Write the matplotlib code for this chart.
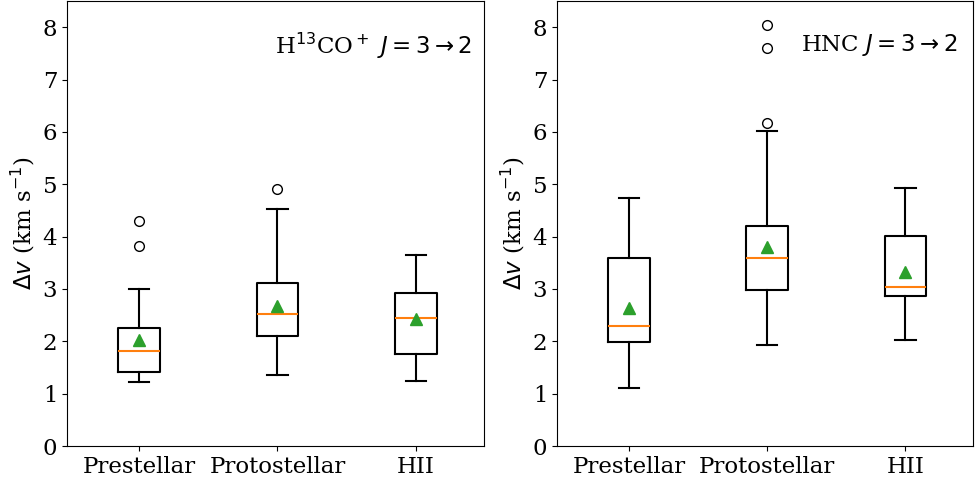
import matplotlib
matplotlib.use("Agg")
import matplotlib.pyplot as plt

plt.rcParams['font.family'] = ['DejaVu Serif']
plt.rcParams['mathtext.fontset'] = 'dejavusans'

categories = ["Prestellar", "Protostellar", "HII"]

# H13CO+ J=3-2 line widths (km/s)
h13_whislo = [1.23, 1.35, 1.25]
h13_q1 = [1.42, 2.10, 1.75]
h13_med = [1.82, 2.52, 2.45]
h13_mean = [2.03, 2.67, 2.42]
h13_q3 = [2.25, 3.12, 2.93]
h13_whishi = [3.00, 4.53, 3.65]
h13_fliers = [[3.82, 4.30], [4.90], []]

# HNC J=3-2 line widths (km/s)
hnc_whislo = [1.11, 1.92, 2.03]
hnc_q1 = [1.99, 2.98, 2.86]
hnc_med = [2.29, 3.59, 3.04]
hnc_mean = [2.64, 3.81, 3.32]
hnc_q3 = [3.60, 4.20, 4.02]
hnc_whishi = [4.74, 6.02, 4.93]
hnc_fliers = [[], [6.16, 7.60, 8.05], []]

labels = [r"H$^{13}$CO$^+$ $J=3\rightarrow2$", r"HNC $J=3\rightarrow2$"]
label_x = [0.972, 0.963]


def make_stats(wl, q1, med, mean, q3, wh, fl):
    return [dict(label=categories[i], whislo=wl[i], q1=q1[i], med=med[i],
                 mean=mean[i], q3=q3[i], whishi=wh[i], fliers=fl[i])
            for i in range(len(categories))]


stats = [
    make_stats(h13_whislo, h13_q1, h13_med, h13_mean, h13_q3, h13_whishi, h13_fliers),
    make_stats(hnc_whislo, hnc_q1, hnc_med, hnc_mean, hnc_q3, hnc_whishi, hnc_fliers),
]

fig = plt.figure(figsize=(9.75, 4.84), dpi=100)
ax1 = fig.add_axes([0.0687, 0.0785, 0.4275, 0.9195])
ax2 = fig.add_axes([0.5713, 0.0785, 0.4267, 0.9195])

for ax, st, lab, lx in zip([ax1, ax2], stats, labels, label_x):
    ax.bxp(st, widths=0.3, showmeans=True,
           flierprops=dict(marker='o', markersize=7, markerfacecolor='none',
                           markeredgecolor='black'),
           meanprops=dict(marker='^', markersize=9, markerfacecolor='#2ca02c',
                          markeredgecolor='#2ca02c'),
           medianprops=dict(color='#ff7f0e', linewidth=1.5),
           boxprops=dict(linewidth=1.5),
           whiskerprops=dict(linewidth=1.5),
           capprops=dict(linewidth=1.5))
    ax.set_ylim(0, 8.5)
    ax.set_xlim(0.48, 3.49)
    ax.set_yticks(range(0, 9))
    ax.tick_params(labelsize=16.5)
    ax.set_ylabel(r"$\Delta v$ (km s$^{-1}$)", fontsize=16.5)
    ax.text(lx, 0.9, lab, transform=ax.transAxes, ha='right', va='center',
            fontsize=16.5)

fig.savefig("out.png", dpi=100)
